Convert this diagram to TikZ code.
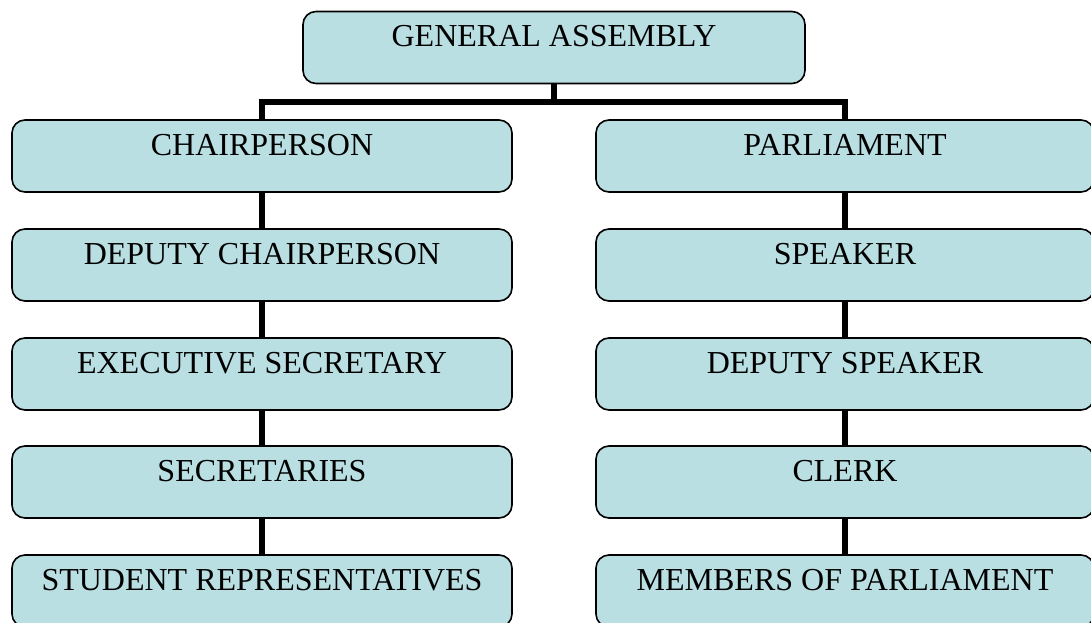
\documentclass[tikz,border=0pt]{standalone}
\usepackage{fontspec}
\setmainfont{Liberation Serif}
\definecolor{boxblue}{RGB}{185,223,227}
\tikzset{
  post/.style={draw, rectangle, rounded corners=13pt, line width=1.6pt, fill=boxblue,
    minimum width=500pt, inner xsep=0pt, inner ysep=0pt,
    text height=35pt, text depth=37pt, font=\fontsize{32}{36}\selectfont},
  link/.style={line width=5.5pt, line join=miter}
}
\begin{document}
\begin{tikzpicture}[x=1pt, y=-1pt]
    \useasboundingbox (0,0) rectangle (1091,623);
    \clip (0,0) rectangle (1091,623);

    \node[post, minimum width=502pt] (GA) at (554,47.5) {GENERAL ASSEMBLY};

    \node[post] (chair) at (262,156) {CHAIRPERSON};
    \node[post] (dchair) at (262,265) {DEPUTY CHAIRPERSON};
    \node[post] (exec) at (262,374) {EXECUTIVE SECRETARY};
    \node[post] (secs) at (262,482) {SECRETARIES};
    \node[post] (reps) at (262,591) {STUDENT REPRESENTATIVES};

    \node[post, minimum width=498pt] (parl) at (845,156) {PARLIAMENT};
    \node[post, minimum width=498pt] (speaker) at (845,265) {SPEAKER};
    \node[post, minimum width=498pt] (dspeaker) at (845,374) {DEPUTY SPEAKER};
    \node[post, minimum width=498pt] (clerk) at (845,482) {CLERK};
    \node[post, minimum width=498pt] (mps) at (845,591) {MEMBERS OF PARLIAMENT};

    \coordinate (fork) at (554,102);
    \draw[link] (GA.south) -- (fork);
    \draw[link] (chair.north) |- (fork) -| (parl.north);

    \draw[link] (chair) -- (dchair);
    \draw[link] (dchair) -- (exec);
    \draw[link] (exec) -- (secs);
    \draw[link] (secs) -- (reps);

    \draw[link] (parl) -- (speaker);
    \draw[link] (speaker) -- (dspeaker);
    \draw[link] (dspeaker) -- (clerk);
    \draw[link] (clerk) -- (mps);
\end{tikzpicture}
\end{document}
